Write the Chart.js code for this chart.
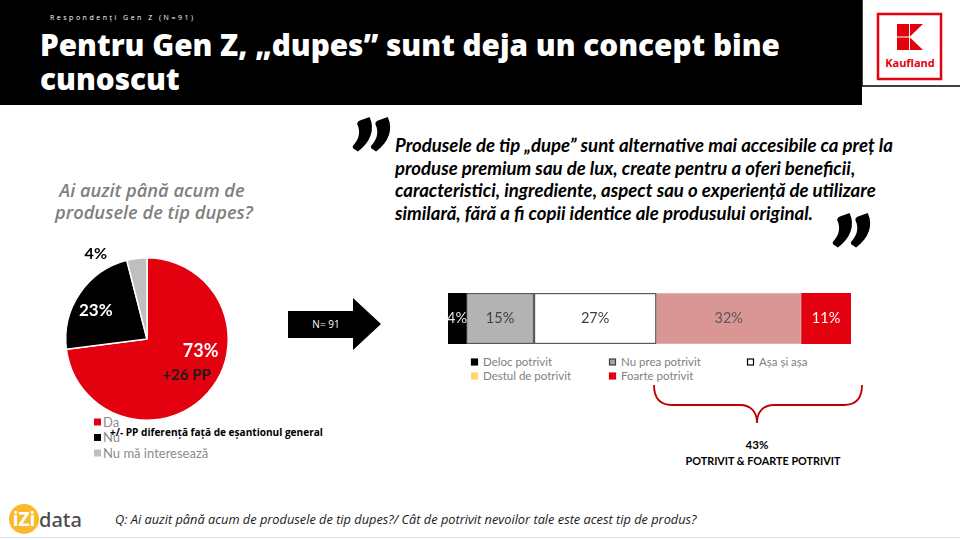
<!DOCTYPE html>
<html><head><meta charset="utf-8">
<script src="https://cdn.jsdelivr.net/npm/chart.js@4.4.1/dist/chart.umd.min.js"></script>
<style>
html,body{margin:0;padding:0;background:#fff;width:960px;height:540px;overflow:hidden;}
#stage{position:relative;width:960px;height:540px;}
svg#bg{position:absolute;left:0;top:0;}
canvas{position:absolute;}
</style></head>
<body><div id="stage">
<svg id="bg" width="960" height="540" xmlns="http://www.w3.org/2000/svg">
  <rect x="0" y="0" width="862" height="105" fill="#000"/>
  <text id="sub" x="50" y="20" fill="#fff" font-size="7" font-family="Open Sans" textLength="143" lengthAdjust="spacing">Respondenți Gen Z (N=91)</text>
  <text id="t1" x="40" y="56" fill="#fff" font-size="30" font-weight="800" font-family="Open Sans">Pentru Gen Z, „dupes” sunt deja un concept bine</text>
  <text id="t2" x="40" y="90" fill="#fff" font-size="30" font-weight="800" font-family="Open Sans">cunoscut</text>
  <!-- logo frame -->
  <line x1="862" y1="0" x2="862" y2="86" stroke="#000" stroke-width="1.5"/>
  <line x1="862" y1="86" x2="960" y2="86" stroke="#000" stroke-width="1.5"/>
  <rect x="878" y="14" width="63" height="65" fill="#fff" stroke="#e3000f" stroke-width="2.5"/>
  <rect x="897" y="24" width="12" height="12.5" fill="#e3000f"/>
  <rect x="897" y="37.5" width="12" height="12.5" fill="#e3000f"/>
  <polygon points="910,24 923,24 910,36.5" fill="#e3000f"/>
  <polygon points="910,37.5 923,50 910,50" fill="#e3000f"/>
  <text x="910" y="67" text-anchor="middle" fill="#e3000f" font-size="11" font-weight="700" font-family="Open Sans">Kaufland</text>
  <!-- quote -->
  <text x="346" y="205" font-size="115" font-weight="900" font-style="italic" font-family="Lato" fill="#000">”</text>
  <text id="q1" x="395" y="152" font-size="16" font-weight="700" font-style="italic" font-family="Lato" fill="#000">Produsele de tip „dupe” sunt alternative mai accesibile ca preț la</text>
  <text class="q" x="395" y="175" font-size="16" font-weight="700" font-style="italic" font-family="Lato" fill="#000">produse premium sau de lux, create pentru a oferi beneficii,</text>
  <text class="q" x="395" y="197" font-size="16" font-weight="700" font-style="italic" font-family="Lato" fill="#000">caracteristici, ingrediente, aspect sau o experiență de utilizare</text>
  <text class="q" x="395" y="220" font-size="16" font-weight="700" font-style="italic" font-family="Lato" fill="#000">similară, fără a fi copii identice ale produsului original.</text>
  <text x="826" y="301" font-size="115" font-weight="900" font-style="italic" font-family="Lato" fill="#000">”</text>
  <!-- pie title -->
  <text id="pt1" x="152" y="197" text-anchor="middle" font-size="18" font-style="italic" font-weight="600" font-family="Open Sans" fill="#7f7f7f">Ai auzit până acum de</text>
  <text id="pt2" x="154" y="219" text-anchor="middle" font-size="18" font-style="italic" font-weight="600" font-family="Open Sans" fill="#7f7f7f">produsele de tip dupes?</text>
  <g id="pieLegend"></g>
  <text id="pp" x="110" y="436" font-size="11" font-weight="700" font-family="Open Sans" fill="#000">+/-  PP diferență față de eșantionul general</text>
  <!-- arrow -->
  <polygon points="288,311 353,311 353,298 381,324 353,350 353,338 288,338" fill="#000"/>
  <text x="326" y="328" text-anchor="middle" font-size="10" font-family="Open Sans" fill="#fff">N= 91</text>
  <g id="barLegend"></g>
  <!-- brace -->
  <path d="M654,385 C654,399 660,405 672,405 L740,405 C751,405 757,412 757,423 C757,412 763,405 774,405 L844,405 C856,405 862,399 862,385" fill="none" stroke="#c00000" stroke-width="1.8"/>
  <text x="757" y="449" text-anchor="middle" font-size="11.5" font-weight="700" font-family="Lato" fill="#000">43%</text>
  <text id="pf" x="763" y="465" text-anchor="middle" font-size="11.5" font-weight="700" font-family="Lato" fill="#000">POTRIVIT &amp; FOARTE POTRIVIT</text>
  <!-- footer -->
  <circle cx="24" cy="519" r="15" fill="#f8b92b"/>
  <text x="24" y="526" text-anchor="middle" font-size="19" font-weight="700" font-family="Open Sans" fill="#fff">iZi</text>
  <text x="39" y="527" font-size="20" font-weight="500" font-family="Noto Sans" fill="#4d4d4d">data</text>
  <text id="foot" x="115" y="524" font-size="11.5" font-style="italic" font-family="Open Sans" fill="#1a1a1a">Q: Ai auzit până acum de produsele de tip dupes?/ Cât de potrivit nevoilor tale este acest tip de produs?</text>
  <line x1="0" y1="537.5" x2="960" y2="537.5" stroke="#e3e3e3" stroke-width="1"/>
</svg>
<canvas id="pie" width="204" height="204" style="left:45px;top:237px;width:204px;height:204px"></canvas>
<canvas id="bar" width="411" height="59" style="left:444px;top:289px;width:411px;height:59px"></canvas>
</div>
<script>
// ---- data ----
const pieLabels = ['Da', 'Nu', 'Nu mă interesează'];
const pieValues = [73, 23, 4];
const pieDiff = ['+26 PP', '', ''];
const barCategories = ['Gen Z'];
const barSeries = ['Deloc potrivit', 'Nu prea potrivit', 'Așa și așa', 'Destul de potrivit', 'Foarte potrivit'];
const barValues = [4, 15, 27, 32, 11];

// ---- styles ----
const pieColors = ['#e3000f', '#000000', '#bfbfbf'];
const pieLabelColors = ['#ffffff', '#ffffff', '#000000'];
const pieLabelSizes = [18, 17, 16];
const pieLabelOffsets = [[0.66, 0.15], [-0.63, -0.35], [-0.63, -1.05]];
const pieDiffOffsets = [[0.49, 0.44], [0, 0], [0, 0]];
const barFill = ['#000000', '#b3b3b3', '#ffffff', '#d99694', '#e3000f'];
const barBorder = ['#000000', '#595959', '#595959', '#e6b9b8', '#e3000f'];
const barBorderW = [0, 1.5, 1.5, 1, 0];
const barLabelColors = ['#e6e6e6', '#404040', '#404040', '#595959', '#ffffff'];
const barLegendFill = ['#000000', '#a6a6a6', '#ffffff', '#ffd966', '#e3000f'];
const barLegendStroke = ['#000000', '#404040', '#000000', '#ffd966', '#e3000f'];

const NS = 'http://www.w3.org/2000/svg';
function el(tag, attrs, txt){const e=document.createElementNS(NS,tag);for(const k in attrs)e.setAttribute(k,attrs[k]);if(txt!==undefined)e.textContent=txt;return e;}
function fit(id, w){const e=document.getElementById(id);const fs=parseFloat(e.getAttribute('font-size'));const len=e.getComputedTextLength();const nf=fs*w/len;e.setAttribute('font-size',nf.toFixed(2));return nf;}

// legends
const pl = document.getElementById('pieLegend');
pieLabels.forEach((l,i)=>{
  const cy = 422 + i*15.5;
  pl.appendChild(el('rect',{x:94,y:cy-3.5,width:7,height:7,fill:pieColors[i]}));
  pl.appendChild(el('text',{x:103,y:cy+4.5,'font-size':13,'font-family':'Lato',fill:'#8c8c8c'},l));
});
const bl = document.getElementById('barLegend');
const legX = [471, 609, 747];
barSeries.forEach((s,i)=>{
  const col = i%3, row = Math.floor(i/3);
  const x = legX[col], cy = 362 + row*14;
  bl.appendChild(el('rect',{x:x+0.5,y:cy-3,width:6,height:6,fill:barLegendFill[i],stroke:barLegendStroke[i],'stroke-width':1.2}));
  bl.appendChild(el('text',{x:x+12,y:cy+4,'font-size':11.5,'font-family':'Lato',fill:'#7f7f7f'},s));
});

// fit texts
const tf = fit('t1', 740); document.getElementById('t2').setAttribute('font-size', tf.toFixed(2));
const qf = fit('q1', 498); document.querySelectorAll('.q').forEach(e=>e.setAttribute('font-size', qf.toFixed(2)));
const pf2 = fit('pt2', 198); document.getElementById('pt1').setAttribute('font-size', pf2.toFixed(2));
fit('pp', 213);
fit('foot', 582);
fit('pf', 155);

// ---- charts ----
const pieLabelPlugin = {
  id: 'pieLabels',
  afterDatasetsDraw(chart){
    const ctx = chart.ctx; const meta = chart.getDatasetMeta(0);
    meta.data.forEach((arc,i)=>{
      const r = arc.outerRadius;
      ctx.save();
      ctx.textAlign='center'; ctx.textBaseline='middle';
      ctx.fillStyle = pieLabelColors[i];
      ctx.font = 'bold '+pieLabelSizes[i]+'px Lato';
      ctx.fillText(pieValues[i]+'%', arc.x + pieLabelOffsets[i][0]*r, arc.y + pieLabelOffsets[i][1]*r);
      if (pieDiff[i]) {
        ctx.fillStyle = '#1a1a1a'; ctx.font = 'bold 15px Lato';
        ctx.fillText(pieDiff[i], arc.x + pieDiffOffsets[i][0]*r, arc.y + pieDiffOffsets[i][1]*r);
      }
      ctx.restore();
    });
  }
};
new Chart(document.getElementById('pie'), {
  type: 'pie',
  data: { labels: pieLabels, datasets: [{ data: pieValues, backgroundColor: pieColors, borderColor: '#ffffff', borderWidth: 1.5 }] },
  options: { responsive: false, animation: false, layout: { padding: 20 },
    plugins: { legend: { display: false }, tooltip: { enabled: false } } },
  plugins: [pieLabelPlugin]
});

const barLabelPlugin = {
  id: 'barLabels',
  afterDatasetsDraw(chart){
    const ctx = chart.ctx;
    chart.data.datasets.forEach((ds,i)=>{
      const bar = chart.getDatasetMeta(i).data[0];
      ctx.save();
      ctx.textAlign='center'; ctx.textBaseline='middle';
      ctx.fillStyle = barLabelColors[i];
      ctx.font = '14.5px Lato';
      ctx.fillText(ds.data[0]+'%', (bar.x+bar.base)/2, bar.y);
      ctx.restore();
    });
  }
};
new Chart(document.getElementById('bar'), {
  type: 'bar',
  data: { labels: barCategories, datasets: barSeries.map((s,i)=>({ label: s, data: [barValues[i]],
    backgroundColor: barFill[i], borderColor: barBorder[i], borderWidth: barBorderW[i], borderSkipped: false,
    barPercentage: 1, categoryPercentage: 1 })) },
  options: { indexAxis: 'y', responsive: false, animation: false, layout: { padding: 4 },
    scales: { x: { stacked: true, display: false, min: 0, max: barValues.reduce((a,b)=>a+b,0) },
              y: { stacked: true, display: false } },
    plugins: { legend: { display: false }, tooltip: { enabled: false } } },
  plugins: [barLabelPlugin]
});
</script>
</body></html>
